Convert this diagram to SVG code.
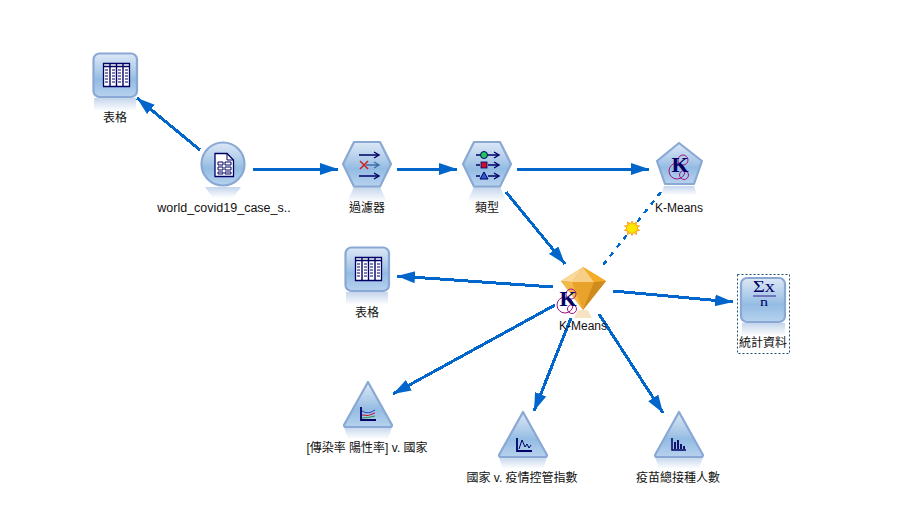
<svg xmlns="http://www.w3.org/2000/svg" width="904" height="514" viewBox="0 0 904 514">
<style>
text{font-family:"Liberation Sans","Noto Sans CJK TC",sans-serif;font-size:12px;fill:#111;text-anchor:middle}
.body{fill:url(#blue);stroke:#8aa8d4;stroke-width:2.2;stroke-linejoin:round}
.refl{fill:url(#refl)}
.link{fill:none;stroke:#0066cc;stroke-width:3;marker-end:url(#arrow);shape-rendering:crispEdges}
.dash{fill:none;stroke:#0066cc;stroke-width:2.5;stroke-dasharray:5 6;shape-rendering:crispEdges}
.ink{fill:none;stroke:#000066;stroke-width:1.4}
.sink{fill:none;stroke:#000066;stroke-width:1}
.ring{fill:none;stroke:#a0157f;stroke-width:1}
text.k{font-family:"Liberation Serif",serif;font-weight:bold;font-size:22px;fill:#000066}
text.sym{font-family:"Liberation Serif",serif;fill:#000066}
</style>
<defs>
<linearGradient id="blue" x1="0" y1="0" x2="0" y2="1">
<stop offset="0" stop-color="#dce8f6"/><stop offset=".45" stop-color="#a9c8e8"/><stop offset=".6" stop-color="#93bce3"/><stop offset="1" stop-color="#b7d2ee"/>
</linearGradient>
<linearGradient id="refl" x1="0" y1="0" x2="0" y2="1">
<stop offset="0" stop-color="#c4d5ec"/><stop offset="1" stop-color="#ffffff"/>
</linearGradient>
<marker id="arrow" markerUnits="userSpaceOnUse" markerWidth="20" markerHeight="14" refX="18" refY="6" orient="auto">
<path d="M0 0L18 6L0 12Z" fill="#0066cc"/>
</marker>
<g id="table">
<rect x="1" y="45" width="42" height="13" class="refl"/>
<rect x=".5" y=".5" width="43.500" height="43.500" rx="6" class="body"/>
<path d="M10.500 10.500h26v23h-26z" fill="#fff" stroke="#000066" stroke-width="1.300"/>
<path d="M10.500 13.500h26M17 10.500v23M23.500 10.500v23M30 10.500v23" class="ink"/>
<path d="M12 17h3M19 17h3M25 17h3M32 17h3M12 20h3M19 20h3M25 20h3M32 20h3M12 23h3M19 23h3M25 23h3M32 23h3M12 26h3M19 26h3M25 26h3M32 26h3M12 29h3M19 29h3M25 29h3M32 29h3" class="sink"/>
</g>
<g id="hex">
<path d="M-13 23L13 23L20 38H-20Z" class="refl"/>
<path d="M-13 -22H13L24 0L13 22.500H-13L-24 0Z" class="body"/>
</g>
<g id="tri">
<path d="M-24 45H24L20 57H-20Z" class="refl"/>
<path d="M0 0L24 43Q24 45 22 45H-22Q-24 45 -24 43Z" class="body"/>
</g>
<g id="kicon">
<circle cx="-3" cy="6" r="8" class="ring"/><circle cx="3" cy="-5" r="5" class="ring"/><circle cx="4" cy="10" r="4.500" class="ring"/>
<text x="0" y="7" class="k">K</text>
</g>
</defs>
<rect width="904" height="514" fill="#fff"/>
<g id="connectors">
<path class="link" d="M200 150L137 98"/>
<path class="link" d="M253 169H338"/>
<path class="link" d="M397 169H457"/>
<path class="link" d="M517 169H649"/>
<path class="link" d="M506 192L565 264"/>
<path class="dash" d="M661 192L603 265"/>
<path class="link" d="M553 287L397 276"/>
<path class="link" d="M613 291L733 302"/>
<path class="link" d="M555 305L393 394"/>
<path class="link" d="M571 318L534 411"/>
<path class="link" d="M599 314L663 413"/>
<path d="M632 221l1.500 3 3-2 -.5 3.500 3.500 .5 -2.500 2 2.500 2.500 -3.500 .5 .5 3.500 -3-2 -1.500 3 -1.500-3 -3 2 .5-3.500 -3.500-.5 2.500-2.500 -2.500-2 3.500-.5 -.5-3.500 3 2Z" fill="#ffe600" stroke="#f59a23" stroke-width="1"/>
</g>
<g id="node-table-1">
<use href="#table" x="93" y="53"/>
<text x="115" y="122">表格</text>
</g>
<g id="node-source">
<path d="M205 187H241L233 198H213Z" class="refl"/>
<circle cx="223" cy="164" r="21.500" class="body"/>
<path d="M215 153.500H227L233.500 160V176.500H215Z" fill="#fff" stroke="#000066" stroke-width="1.300"/>
<path d="M227 153.500V160H233.500" class="sink"/>
<path d="M218 162h5v3h-5zM225 162h6v3h-6zM218 167h5v3h-5zM225 167h6v3h-6zM218 172h5v2h-5zM225 172h6v2h-6z" class="sink"/>
<text x="224" y="212" style="font-size:12.500px">world_covid19_case_s..</text>
</g>
<g id="node-filter">
<use href="#hex" x="367" y="164"/>
<path d="M359 155H378M359 176H378" class="ink"/>
<path d="M374 152L379 155L374 158M374 173L379 176L374 179" class="ink"/>
<path d="M366 165H378M374 162L379 165L374 168" fill="none" stroke="#3f6fa8" stroke-width="1.400"/>
<path d="M360 161L368 169M368 161L360 169" fill="none" stroke="#cc1f1f" stroke-width="1.500"/>
<text x="367" y="212">過濾器</text>
</g>
<g id="node-type">
<use href="#hex" x="487" y="164"/>
<circle cx="484" cy="155" r="3.500" fill="#22c55e" stroke="#000066"/>
<rect x="481" y="162" width="6" height="6" fill="#c8102e" stroke="#000066" stroke-width=".8"/>
<path d="M484 172L488 179H480Z" fill="#2a5fd0" stroke="#000066"/>
<path d="M476 155H480M488 155H498M476 165H480M488 165H498M476 176H480M488 176H498" class="ink"/>
<path d="M494 152L499 155L494 158M494 162L499 165L494 168M494 173L499 176L494 179" class="ink"/>
<text x="487" y="212">類型</text>
</g>
<g id="node-kmeans-model">
<path d="M664 186H694L697 195H661Z" class="refl"/>
<path d="M679 143L702 161L694 184H665L657 161Z" class="body"/>
<use href="#kicon" x="680" y="165"/>
<text x="679" y="212">K-Means</text>
</g>
<g id="node-table-2">
<use href="#table" x="345" y="247"/>
<text x="367" y="317">表格</text>
</g>
<g id="node-kmeans-nugget">
<path d="M578 310H588L592 318H574Z" fill="#f6e3c4"/>
<path d="M583 267L606 281L583 310L561 281Z" fill="#e9a32a"/>
<path d="M583 267L572 282H594Z" fill="#f8cf87"/>
<path d="M583 267L561 281L572 282Z" fill="#fbd89b"/>
<path d="M583 267L606 281L594 282Z" fill="#f3ac27"/>
<path d="M561 281L572 282L583 310Z" fill="#f2b84a"/>
<path d="M594 282L606 281L583 310Z" fill="#cf8b1e"/>
<use href="#kicon" x="568" y="299"/>
<text x="583" y="330">K-Means</text>
</g>
<g id="node-stats">
<rect x="737.500" y="274.500" width="52" height="79" fill="none" stroke="#1d4f79" stroke-width="1" stroke-dasharray="2 2"/>
<rect x="742" y="323" width="43" height="13" class="refl"/>
<rect x="741" y="278" width="44" height="44" rx="6" class="body"/>
<text x="764" y="292" class="sym" textLength="22" lengthAdjust="spacingAndGlyphs" style="font-size:16px">Σx</text>
<path d="M753 296H776" stroke="#5a5aa8" stroke-width="1.500"/>
<text x="764" y="306" class="sym" textLength="8" lengthAdjust="spacingAndGlyphs" style="font-size:12px">n</text>
<text x="763" y="347">統計資料</text>
</g>
<g id="node-plot-1">
<use href="#tri" x="368" y="382"/>
<path d="M361 407V420H376" fill="none" stroke="#000066" stroke-width="1.800"/>
<path d="M362 411Q368 415 375 410" fill="none" stroke="#2a3fc0"/>
<path d="M362 415Q368 417 375 413" fill="none" stroke="#c8102e"/>
<path d="M362 418Q368 418 375 416" fill="none" stroke="#1e9a3c"/>
<text x="367" y="452">[傳染率 陽性率] v. 國家</text>
</g>
<g id="node-plot-2">
<use href="#tri" x="523" y="412"/>
<path d="M517 438V451H532" fill="none" stroke="#000066" stroke-width="1.800"/>
<path d="M519 449L522 440L525 447L527 444L529 448L531 445" class="sink"/>
<text x="522" y="482">國家 v. 疫情控管指數</text>
</g>
<g id="node-plot-3">
<use href="#tri" x="679" y="412"/>
<path d="M672 438V450H686" fill="none" stroke="#000066" stroke-width="1.500"/>
<path d="M675 449V442M678 449V440M681 449V444M684 449V446" fill="none" stroke="#000066" stroke-width="1.800"/>
<text x="678" y="482">疫苗總接種人數</text>
</g>
</svg>
